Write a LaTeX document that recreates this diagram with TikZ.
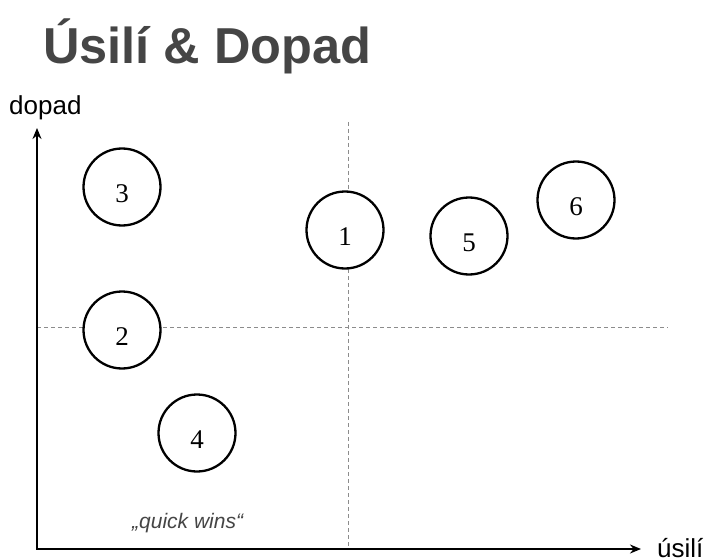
\documentclass[tikz,border=0pt]{standalone}
\usepackage{fontspec}
\setmainfont{Liberation Serif}
\setsansfont{Liberation Sans}
\usetikzlibrary{arrows.meta}
\definecolor{titlegray}{gray}{0.27}
\definecolor{guidegray}{gray}{0.55}
\begin{document}
\begin{tikzpicture}[x=1pt,y=-1pt,
  item/.style={circle,draw=black,line width=2.3pt,fill=white,minimum size=77pt,inner sep=0pt,
    label={[font=\fontsize{27}{32}\selectfont,inner sep=0pt,yshift=-7pt]center:#1}},
  axis/.style={line width=2.8pt,-{Stealth[length=11pt,width=9pt]}},
  guide/.style={guidegray,line width=1pt,dash pattern=on 4pt off 3pt},
  axislabel/.style={font=\sffamily\fontsize{26}{31}\selectfont,inner sep=0pt,anchor=base west}]
\useasboundingbox (0,0) rectangle (707,559);
\fill[white] (0,0) rectangle (707,559);

% title
\node[anchor=base west,inner sep=0pt,text=titlegray,font=\sffamily\bfseries\fontsize{50.5}{60}\selectfont] (title) at (43,64) {Úsilí \& Dopad};

% quadrant guides
\coordinate (hl) at (37,327);
\coordinate (hr) at (668,327);
\coordinate (vt) at (348,122);
\coordinate (vb) at (348,548);
\draw[guide] (hl) -- (hr);
\draw[guide] (vt) -- (vb);

% axes
\coordinate (origin) at (37,549);
\coordinate (ytip) at (37,128);
\coordinate (xtip) at (641,549);
\draw[axis] (origin) -- (ytip);
\draw[axis] (origin) -- (xtip);
\draw[line width=2.8pt] (37,549) -- (37,550.4);

\node[axislabel] (ylab) at (9,115) {dopad};
\node[axislabel] (xlab) at (657,557) {úsilí};
\node[anchor=base west,inner sep=0pt,text=titlegray,font=\sffamily\itshape\fontsize{21}{25}\selectfont] (qw) at (132,528) {„quick wins“};

% items
\node[item=3] (n3) at (122,187) {};
\node[item=2] (n2) at (122,330) {};
\node[item=4] (n4) at (197,433) {};
\node[item=1] (n1) at (345,230) {};
\node[item=5] (n5) at (469,236) {};
\node[item=6] (n6) at (576,200) {};
\end{tikzpicture}
\end{document}
